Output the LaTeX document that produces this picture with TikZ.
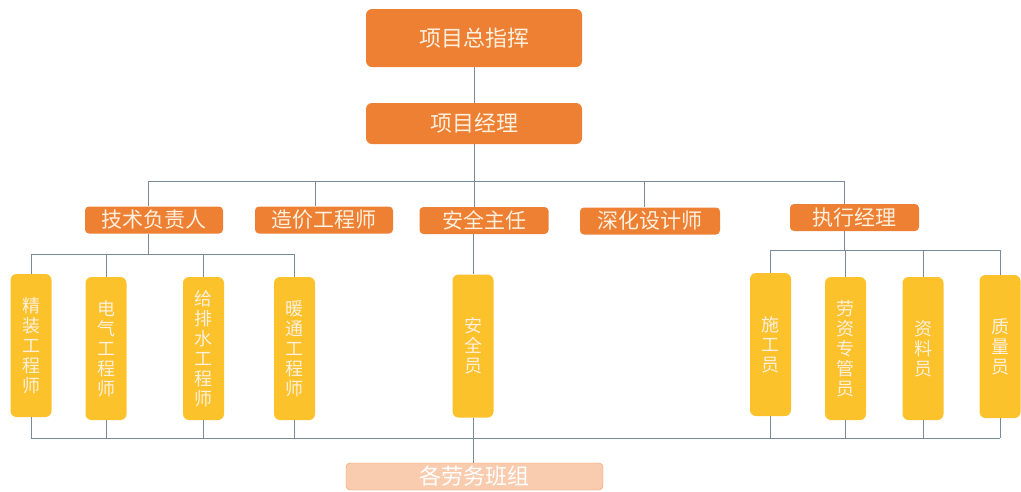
\documentclass[tikz,border=0pt]{standalone}
\usepackage{fontspec}
\newfontfamily\cjk{Noto Sans CJK SC}
\definecolor{darkorange}{RGB}{238,128,52}
\definecolor{goldbox}{RGB}{251,194,44}
\definecolor{paleorange}{RGB}{249,204,175}
\definecolor{linkgray}{RGB}{122,138,155}
\definecolor{creamtext}{RGB}{253,240,222}
\tikzstyle{headbox} = [fill=darkorange, rounded corners=6pt, text=creamtext, inner sep=0pt, minimum width=216pt, font=\cjk\fontsize{22}{22}\selectfont]
\tikzstyle{rolebox} = [fill=darkorange, rounded corners=4pt, text=creamtext, inner sep=0pt, minimum width=138pt, minimum height=27pt, font=\cjk\fontsize{21}{21}\selectfont]
\tikzstyle{staffbox} = [fill=goldbox, rounded corners=6pt, text=creamtext, inner sep=0pt, minimum width=41pt, minimum height=143pt, align=center, font=\cjk\fontsize{18}{20}\selectfont]
\tikzstyle{crewbox} = [fill=paleorange, draw=darkorange!80, rounded corners=4pt, text=white, inner sep=0pt, minimum width=257pt, minimum height=27pt, font=\cjk\fontsize{22}{22}\selectfont]
\tikzstyle{link} = [draw=linkgray, line width=1pt]
\begin{document}
\begin{tikzpicture}[x=1pt, y=-1pt]
\useasboundingbox (0,0) rectangle (1021,491);

\node[headbox, minimum height=58pt] (zh) at (474,38) {项目总指挥};
\node[headbox, minimum height=41pt] (jl) at (474,123.5) {项目经理};

\node[rolebox] (js) at (154,220) {技术负责人};
\node[rolebox] (zj) at (324,220) {造价工程师};
\node[rolebox, minimum width=129pt] (aq) at (484,220.5) {安全主任};
\node[rolebox, minimum width=140pt] (sh) at (650,221) {深化设计师};
\node[rolebox, minimum width=129pt] (zx) at (854.5,217.5) {执行经理};

\node[staffbox] (jz) at (31,345.5) {精\\装\\工\\程\\师};
\node[staffbox] (dq) at (106,348.5) {电\\气\\工\\程\\师};
\node[staffbox] (gps) at (203.5,348.5) {给\\排\\水\\工\\程\\师};
\node[staffbox] (nt) at (294.5,348.5) {暖\\通\\工\\程\\师};
\node[staffbox] (aqy) at (473,346) {安\\全\\员};
\node[staffbox] (sg) at (770.5,344.5) {施\\工\\员};
\node[staffbox] (lz) at (845.5,348.5) {劳\\资\\专\\管\\员};
\node[staffbox] (zl) at (923,348.5) {资\\料\\员};
\node[staffbox] (zly) at (1000,346.5) {质\\量\\员};

\node[crewbox] (bz) at (474.5,476.5) {各劳务班组};

\coordinate (bus1) at (0,181);
\coordinate (bus2) at (0,254);
\coordinate (bus3) at (0,250);
\coordinate (bus4) at (0,438);
\coordinate (c1) at (148,0);
\coordinate (c2) at (315,0);
\coordinate (c4) at (644,0);
\coordinate (c5) at (844,0);

\draw[link] (zh) -- (jl);
\draw[link] (jl.south) -- (jl |- bus1);
\draw[link] (c1 |- bus1) -- (c5 |- bus1);
\foreach \c/\n in {c1/js, c2/zj, c4/sh, c5/zx}
  \draw[link] (\c |- bus1) -- (\c |- \n.north);
\draw[link] (jl |- bus1) -- (jl |- aq.north);
\draw[link] (aqy |- aq.south) -- (aqy.north);
\draw[link] (aqy.south) -- (aqy |- bz.north);

\draw[link] (c1 |- js.south) -- (c1 |- bus2);
\draw[link] (jz |- bus2) -- (nt |- bus2);
\foreach \n in {jz,dq,gps,nt}
  \draw[link] (\n |- bus2) -- (\n.north);

\draw[link] (c5 |- zx.south) -- (c5 |- bus3);
\draw[link] (sg |- bus3) -- (zly |- bus3);
\foreach \n in {sg,lz,zl,zly}
  \draw[link] (\n |- bus3) -- (\n.north);

\draw[link] (jz |- bus4) -- (zly |- bus4);
\foreach \n in {jz,dq,gps,nt,sg,lz,zl,zly}
  \draw[link] (\n.south) -- (\n |- bus4);

\end{tikzpicture}
\end{document}
